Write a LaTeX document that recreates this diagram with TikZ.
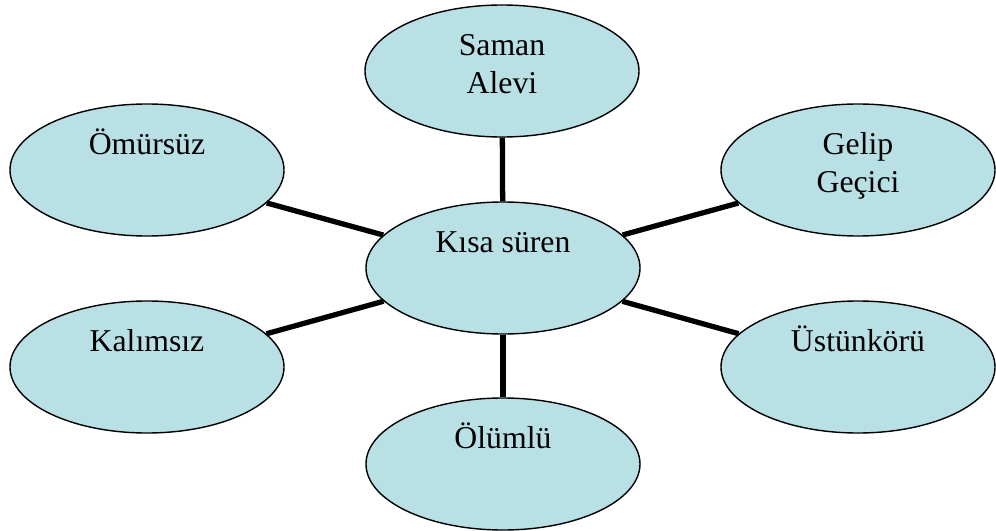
\documentclass[tikz,border=0pt]{standalone}
\usepackage{fontspec}
\setmainfont{Liberation Serif}
\usetikzlibrary{shapes.geometric}
\definecolor{bubfill}{RGB}{185,224,228}

\begin{document}
\begin{tikzpicture}[
  x=0.03cm, y=-0.03cm,
  bub/.style={ellipse, draw, line width=1.2pt, fill=bubfill,
              minimum width=8.22cm, minimum height=3.96cm, inner sep=0pt},
  txt/.style={anchor=north, yshift=-20.8pt, inner sep=0pt, align=center,
              font=\fontsize{27.1}{32.4}\selectfont},
  link/.style={line width=4.5pt},
]
\useasboundingbox (0,0) rectangle (996,531);
\node[bub, label={[txt]north:{\strut Kısa süren}}] (kisa) at (503,268) {};
\node[bub, label={[txt]north:{\strut Saman\\Alevi}}] (saman) at (502,71) {};
\node[bub, label={[txt]north:{\strut Ömürsüz}}] (omur) at (147,170) {};
\node[bub, label={[txt]north:{\strut Gelip\\Geçici}}] (gelip) at (858,170) {};
\node[bub, label={[txt]north:{\strut Kalımsız}}] (kalim) at (147,367) {};
\node[bub, label={[txt]north:{\strut Üstünkörü}}] (ustun) at (858,367) {};
\node[bub, label={[txt]north:{\strut Ölümlü}}] (olum) at (503,464) {};
\foreach \v in {saman,omur,gelip,kalim,ustun,olum} \draw[link] (kisa) -- (\v);
\end{tikzpicture}
\end{document}
